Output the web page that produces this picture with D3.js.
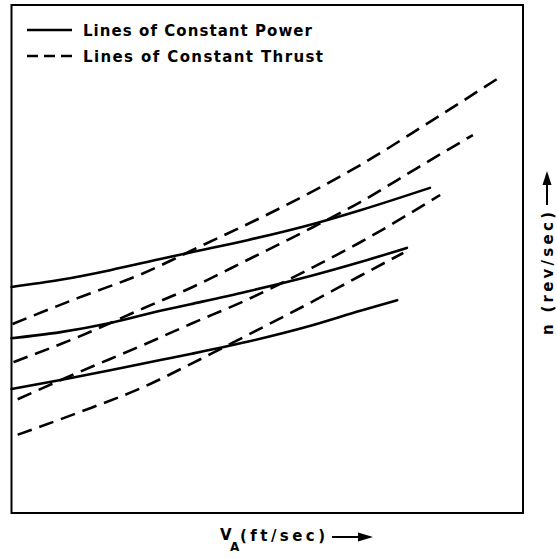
<!DOCTYPE html>
<html><head><meta charset="utf-8">
<script src="https://cdn.jsdelivr.net/npm/d3@7"></script>
<style>html,body{margin:0;padding:0;background:#fff;} svg{display:block;}</style>
</head><body>
<script>
// Lines of constant power (solid) : [V_A, n] in arbitrary units 0-100
const power1 = [[0,44.5],[9.6,45.9],[19.3,47.8],[29.1,50.0],[35.0,51.3],[46.1,53.7],[59.0,56.9],[68.2,59.6],[81.8,64.0]];
const power2 = [[0,34.4],[9.6,35.6],[19.3,37.4],[29.1,39.8],[35.0,41.1],[46.1,43.6],[59.0,46.8],[68.2,49.4],[77.3,52.2]];
const power3 = [[0,24.4],[9.6,26.2],[19.3,28.1],[29.1,30.1],[35.0,31.3],[46.1,33.7],[59.0,37.0],[68.2,39.8],[75.4,41.9]];
// Lines of constant thrust (dashed)
const thrust1 = [[0.2,37.2],[12.9,42.3],[25.8,47.2],[36.3,52.2],[52.5,60.0],[68.2,68.5],[81.8,77.0],[96.1,86.2]];
const thrust2 = [[0.4,29.7],[12.9,34.6],[25.8,40.3],[35.0,44.3],[46.1,49.8],[59.0,56.3],[68.2,61.2],[79.3,67.9],[90.2,74.4]];
const thrust3 = [[1.2,22.4],[12.9,27.6],[25.8,33.1],[35.0,37.2],[46.1,42.0],[59.0,48.4],[68.2,53.3],[83.8,62.6]];
const thrust4 = [[1.2,15.4],[12.9,19.7],[25.8,24.8],[35.0,29.3],[46.1,35.0],[59.0,41.7],[68.2,46.7],[76.6,51.2]];

const powerSeries = [power1, power2, power3];
const thrustSeries = [thrust1, thrust2, thrust3, thrust4];
const legendLabels = ["Lines of Constant Power", "Lines of Constant Thrust"];
const xLabelMain = "V", xLabelSub = "A", xLabelUnit = "(ft/sec)";
const yLabel = "n (rev/sec)";

const W = 557, H = 558;
const box = {left: 11.5, right: 523, top: 5, bottom: 513};
const FONT = "'DejaVu Sans', sans-serif";

const svg = d3.select("body").append("svg").attr("width", W).attr("height", H);

const x = d3.scaleLinear().domain([0, 100]).range([box.left, box.right]);
const y = d3.scaleLinear().domain([0, 100]).range([box.bottom, box.top]);

// frame
svg.append("rect")
  .attr("x", box.left).attr("y", box.top)
  .attr("width", box.right - box.left).attr("height", box.bottom - box.top)
  .attr("fill", "none").attr("stroke", "#000").attr("stroke-width", 2);

const line = d3.line().x(d => x(d[0])).y(d => y(d[1])).curve(d3.curveMonotoneX);

svg.append("g").selectAll("path").data(powerSeries).join("path")
  .attr("d", line).attr("fill", "none").attr("stroke", "#000")
  .attr("stroke-width", 2.6).attr("stroke-linecap", "round");

svg.append("g").selectAll("path").data(thrustSeries).join("path")
  .attr("d", line).attr("fill", "none").attr("stroke", "#000")
  .attr("stroke-width", 2.6).attr("stroke-dasharray", "15,8");

// legend
const lg = svg.append("g");
lg.append("line").attr("x1", 27).attr("x2", 72).attr("y1", 30).attr("y2", 30)
  .attr("stroke", "#000").attr("stroke-width", 2.6);
lg.append("line").attr("x1", 27).attr("x2", 73).attr("y1", 56).attr("y2", 56)
  .attr("stroke", "#000").attr("stroke-width", 2.6).attr("stroke-dasharray", "11,6");
const legLens = [229, 240];
lg.selectAll("text").data(legendLabels).join("text")
  .attr("x", 83).attr("y", (d, i) => 35.5 + i * 26)
  .attr("textLength", (d, i) => legLens[i]).attr("lengthAdjust", "spacing")
  .attr("font-family", FONT).attr("font-weight", "bold").attr("font-size", 15)
  .text(d => d);

// x label
const xl = svg.append("g");
xl.append("text").attr("x", 220).attr("y", 540).attr("font-family", FONT)
  .attr("font-weight", "bold").attr("font-size", 15).text(xLabelMain);
xl.append("text").attr("x", 230).attr("y", 551).attr("font-family", FONT)
  .attr("font-weight", "bold").attr("font-size", 12).text(xLabelSub);
xl.append("text").attr("x", 240).attr("y", 541).attr("font-family", FONT)
  .attr("font-weight", "bold").attr("font-size", 15)
  .attr("textLength", 85).attr("lengthAdjust", "spacing").text(xLabelUnit);
xl.append("line").attr("x1", 332).attr("x2", 360).attr("y1", 537).attr("y2", 537)
  .attr("stroke", "#000").attr("stroke-width", 2);
xl.append("path").attr("d", "M358,532.5 L373,537 L358,541.5 Z").attr("fill", "#000");

// y label (rotated)
const yl = svg.append("g");
yl.append("text").attr("transform", "translate(553,335) rotate(-90)")
  .attr("font-family", FONT).attr("font-weight", "bold").attr("font-size", 15)
  .attr("textLength", 123).attr("lengthAdjust", "spacing").text(yLabel);
yl.append("line").attr("x1", 547).attr("x2", 547).attr("y1", 205).attr("y2", 183)
  .attr("stroke", "#000").attr("stroke-width", 2);
yl.append("path").attr("d", "M542.5,185 L547,171 L551.5,185 Z").attr("fill", "#000");
</script>
</body></html>
